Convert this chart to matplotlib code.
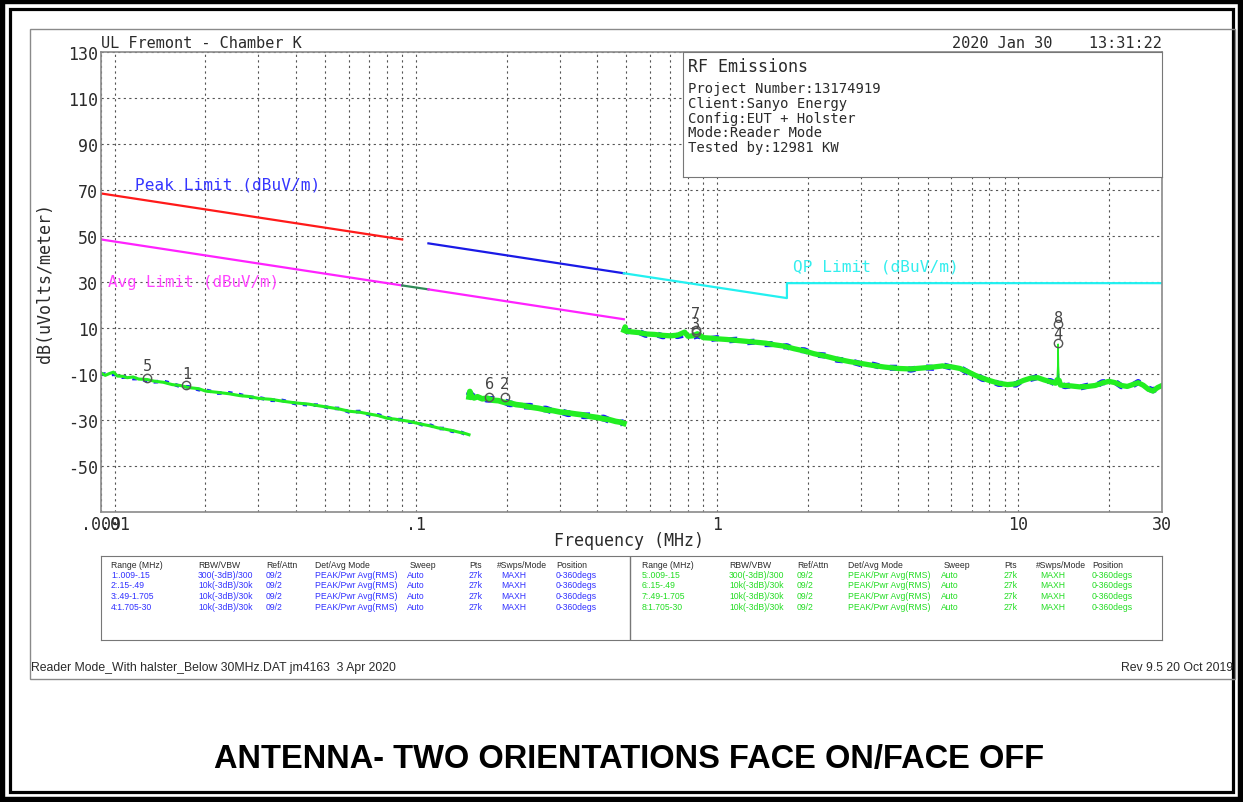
import matplotlib.pyplot as plt
from matplotlib.patches import Rectangle
from matplotlib import font_manager

W, H = 1243, 803

# ---- data ----
# trace 1-4 (blue) / 5-8 (green), frequency in MHz, level in dBuV/m
f1 = [0.009, 0.0093, 0.0096, 0.0099, 0.0102, 0.0106, 0.011, 0.0115, 0.012, 0.0128, 0.0135, 0.0145,
      0.0155, 0.0165, 0.0176, 0.019, 0.02, 0.022, 0.024, 0.026, 0.028, 0.03, 0.033, 0.036, 0.04,
      0.044, 0.048, 0.052, 0.056, 0.06, 0.065, 0.07, 0.075, 0.08, 0.085, 0.09, 0.095, 0.1, 0.106,
      0.112, 0.118, 0.125, 0.132, 0.14, 0.146, 0.15]
v1_green = [-9.6, -10.6, -9.8, -9.2, -10.9, -11.0, -11.6, -11.3, -12.2, -12.4, -13.1, -13.6,
            -14.6, -15.0, -15.9, -16.4, -17.4, -18.0, -18.6, -19.4, -19.8, -20.6, -21.0, -21.8, -22.6,
            -23.1, -23.9, -24.6, -25.3, -26.2, -26.6, -27.4, -28.1, -29.2, -29.6, -30.1, -30.6, -31.3, -32.0,
            -32.6, -33.4, -34.0, -34.6, -35.4, -35.9, -36.4]
v1_blue = [-10.2, -10.0, -10.4, -10.1, -10.5, -11.4, -11.2, -12.0, -12.0, -12.9, -13.4, -13.2,
           -14.2, -15.4, -15.6, -16.8, -17.0, -18.3, -18.2, -19.0, -20.1, -20.3, -21.4, -21.5, -22.9,
           -23.4, -23.6, -24.9, -25.0, -26.5, -26.3, -27.7, -27.8, -28.9, -29.9, -29.8, -30.9, -31.0, -32.3,
           -32.3, -33.7, -33.7, -34.9, -35.1, -36.2, -36.1]

f2 = [0.15, 0.151, 0.153, 0.156, 0.16, 0.166, 0.172, 0.18, 0.188, 0.196, 0.205, 0.215, 0.225,
      0.24, 0.255, 0.27, 0.285, 0.3, 0.32, 0.34, 0.36, 0.38, 0.4, 0.42, 0.44, 0.46, 0.475, 0.49]
v2_green = [-20.0, -17.6, -19.8, -20.4, -19.9, -20.8, -20.5, -21.4, -21.6, -22.3, -22.6, -23.3, -23.6,
            -24.4, -24.9, -25.6, -25.9, -26.5, -26.9, -27.4, -27.8, -28.5, -28.9, -29.5, -29.9, -30.6,
            -30.9, -31.5]
v2_blue = [-19.4, -18.4, -19.4, -20.0, -20.4, -20.3, -21.0, -21.0, -22.0, -21.9, -23.0, -22.9, -24.0,
           -24.0, -25.3, -25.2, -26.3, -26.1, -27.3, -27.0, -28.2, -28.1, -29.3, -29.1, -30.3, -30.2,
           -31.3, -31.1]

f3 = [0.49, 0.495, 0.5, 0.52, 0.55, 0.58, 0.62, 0.66, 0.7, 0.74, 0.78, 0.8, 0.83, 0.86, 0.9, 0.95,
      1.0, 1.08, 1.16, 1.25, 1.35, 1.45, 1.55, 1.65, 1.705, 1.8, 1.95, 2.1, 2.3, 2.5, 2.75, 3.0, 3.3,
      3.6, 4.0, 4.4, 4.8, 5.2, 5.6, 6.0, 6.4, 6.8, 7.2, 7.6, 8.0, 8.6, 9.2, 9.8, 10.4, 11.0, 11.6,
      12.2, 12.8, 13.3, 13.45, 13.52, 13.56, 13.6, 13.67, 13.8, 14.3, 15.0, 16.0, 17.0, 18.0, 19.0,
      20.0, 21.0, 22.0, 23.0, 24.0, 25.0, 26.0, 27.0, 28.0, 29.0, 30.0]
v3_green = [9.0, 10.5, 8.6, 8.3, 8.0, 7.4, 7.2, 6.8, 6.6, 6.9, 8.2, 6.4, 6.6, 7.5, 5.8, 5.6,
            5.3, 5.0, 4.6, 4.2, 3.8, 3.4, 2.7, 2.2, 1.8, 1.0, 0.0, -1.2, -2.3, -3.5, -4.6, -5.4, -6.3,
            -7.0, -7.6, -7.8, -7.4, -7.0, -6.5, -6.9, -7.6, -9.0, -10.6, -11.8, -12.8, -14.0, -14.6,
            -14.3, -12.8, -11.8, -11.6, -12.6, -13.4, -14.0, -12.5, -6.0, 3.0, -6.5, -12.8, -14.8,
            -15.0, -15.2, -15.6, -15.4, -15.0, -13.9, -13.2, -13.8, -15.0, -15.4, -14.6, -13.8, -14.9,
            -16.6, -17.4, -15.9, -15.0]
v3_blue = [8.6, 9.4, 8.9, 7.9, 8.3, 7.0, 7.5, 6.4, 6.9, 6.5, 7.2, 6.8, 6.2, 6.7, 6.1, 5.2,
           5.6, 4.6, 4.9, 3.8, 4.1, 3.0, 3.0, 1.9, 2.1, 0.6, 0.3, -1.5, -2.0, -3.8, -4.3, -5.7, -6.0,
           -7.3, -7.3, -8.1, -7.1, -7.3, -6.2, -7.2, -7.3, -9.3, -10.3, -12.1, -12.5, -14.3, -14.3,
           -14.6, -12.5, -12.1, -11.3, -12.9, -13.1, -14.3, -13.5, -12.0, -9.5, -12.2, -13.6, -14.5,
           -15.3, -14.9, -15.9, -15.1, -15.3, -13.6, -13.5, -13.5, -15.3, -15.1, -14.9, -13.5, -15.2,
           -16.3, -17.1, -16.2, -14.7]
spike_band = (13.45, 13.67)   # narrow 13.56 MHz carrier, drawn as a thin line

# limit lines (end points)
peak_f, peak_v = [0.009, 0.09], [68.5, 48.5]
peak2_f, peak2_v = [0.11, 0.49], [46.8, 33.8]
qp_f, qp_v = [0.49, 1.705, 1.705, 30], [33.8, 23.0, 29.5, 29.5]
avg_f, avg_v = [0.009, 0.09], [48.5, 28.5]
qp_mid_f, qp_mid_v = [0.09, 0.11], [28.5, 26.8]
avg2_f, avg2_v = [0.11, 0.49], [26.8, 13.8]

# markers
mk_f = [0.0128, 0.0173, 0.175, 0.197, 0.85, 0.85, 13.56, 13.56]
mk_v = [-11.7, -14.8, -20.2, -20.2, 9.3, 8.3, 11.7, 3.5]
mk_lbl_v = [-6.5, -9.6, -14.3, -14.3, 16.2, 12.0, 14.4, 7.4]
mk_lbl = ['5', '1', '6', '2', '7', '3', '8', '4']

y_ticks = [-50, -30, -10, 10, 30, 50, 70, 90, 110, 130]
x_ticks = [0.009, 0.01, 0.1, 1, 10, 30]
x_ticklabels = ['.009', '.01', '.1', '1', '10', '30']

info_lines = ['Project Number:13174919', 'Client:Sanyo Energy', 'Config:EUT + Holster',
              'Mode:Reader Mode', 'Tested by:12981 KW']

tbl_header = ['Range (MHz)', 'RBW/VBW', 'Ref/Attn', 'Det/Avg Mode', 'Sweep', 'Pts', '#Swps/Mode', 'Position']
ranges_left = ['1:.009-.15', '2:.15-.49', '3:.49-1.705', '4:1.705-30']
ranges_right = ['5:.009-.15', '6:.15-.49', '7:.49-1.705', '8:1.705-30']
rbw = ['300(-3dB)/300', '10k(-3dB)/30k', '10k(-3dB)/30k', '10k(-3dB)/30k']

MONO = 'DejaVu Sans Mono'
TXT = '#2a2a2a'
names = {f.name for f in font_manager.fontManager.ttflist}
if 'Liberation Sans Narrow' in names:
    NARROW, nsz = 'Liberation Sans Narrow', 7.2
else:
    NARROW, nsz = 'Liberation Sans', 6.2


def fx(x):
    return x / W


def fy(y):
    return 1 - y / H


fig = plt.figure(figsize=(W / 100, H / 100), dpi=100)

# page borders
fig.add_artist(Rectangle((0, 0), 1, 1, transform=fig.transFigure, fill=False, ec='black', lw=7.5))
fig.add_artist(Rectangle((fx(10), fy(H - 10)), fx(W - 20), (H - 20) / H, transform=fig.transFigure,
                         fill=False, ec='black', lw=2.3))
fig.add_artist(Rectangle((fx(30), fy(680)), fx(1235 - 30), 650 / H, transform=fig.transFigure,
                         fill=False, ec='#8a8a8a', lw=1))

ax = fig.add_axes([fx(101), fy(513), fx(1162 - 101), 460 / H])
ax.set_xscale('log')
ax.set_xlim(0.009, 30)
ax.set_ylim(-70, 130)

minor = [m * 10.0 ** e for e in (-2, -1, 0, 1) for m in range(1, 10) if 0.009 < m * 10.0 ** e <= 30]
ax.set_xticks(x_ticks)
ax.set_xticklabels(x_ticklabels)
ax.set_xticks(minor, minor=True)
ax.xaxis.set_minor_formatter(plt.NullFormatter())
ax.set_yticks(y_ticks)
ax.set_yticklabels([str(t) for t in y_ticks])
ax.tick_params(which='both', length=0, labelsize=12, labelcolor=TXT, pad=2)
for lab in ax.get_xticklabels() + ax.get_yticklabels():
    lab.set_fontfamily(MONO)
ax.grid(True, which='both', axis='x', color='#555555', lw=0.8, ls=(0, (2, 3)))
ax.grid(True, which='major', axis='y', color='#555555', lw=0.8, ls=(0, (2, 3)))
for s in ax.spines.values():
    s.set_color('#8a8a8a')
    s.set_linewidth(1.2)

# limits
ax.plot(peak_f, peak_v, color='#ff1a1a', lw=1.6)
ax.plot(peak2_f, peak2_v, color='#1a1ae6', lw=1.6)
ax.plot(qp_f, qp_v, color='#22f0f0', lw=1.6)
ax.plot(avg_f, avg_v, color='#ff22ff', lw=1.6)
ax.plot(qp_mid_f, qp_mid_v, color='#2e8b57', lw=1.6)
ax.plot(avg2_f, avg2_v, color='#ff22ff', lw=1.6)

ax.text(0.01167, 72.6, 'Peak Limit (dBuV/m)', family=MONO, fontsize=11.6, color='#3535ff', va='center')
ax.text(0.00949, 30.4, 'Avg Limit (dBuV/m)', family=MONO, fontsize=11.4, color='#ff44ff', va='center')
ax.text(1.79, 37.0, 'QP Limit (dBuV/m)', family=MONO, fontsize=11.6, color='#33eeee', va='center')

# traces
for f, vb, vg, lw in [(f1, v1_blue, v1_green, 2.6), (f2, v2_blue, v2_green, 4.8)]:
    ax.plot(f, vb, color='#1a1aff', lw=lw, ls=(0, (1.2, 1.8)))
    ax.plot(f, vg, color='#22ee22', lw=lw * 0.85)

outside = [i for i, f in enumerate(f3) if not (spike_band[0] < f < spike_band[1])]
inside = [i for i, f in enumerate(f3) if spike_band[0] <= f <= spike_band[1]]
ax.plot([f3[i] for i in outside], [v3_blue[i] for i in outside], color='#1a1aff', lw=4.4, ls=(0, (1.2, 1.8)))
ax.plot([f3[i] for i in inside], [v3_blue[i] for i in inside], color='#1a1aff', lw=1.0)
ax.plot([f3[i] for i in outside], [v3_green[i] for i in outside], color='#22ee22', lw=3.8)
ax.plot([f3[i] for i in inside], [v3_green[i] for i in inside], color='#22ee22', lw=1.0)

# markers
ax.plot(mk_f, mk_v, ls='none', marker='o', ms=6, mfc='none', mec='#555555', mew=1)
for f, v, t in zip(mk_f, mk_lbl_v, mk_lbl):
    ax.text(f, v, t, family=MONO, fontsize=11, color='#444444', ha='center', va='center')

fig.text(fx(101), fy(43), 'UL Fremont - Chamber K', family=MONO, fontsize=11, color=TXT, va='center')
fig.text(fx(1162), fy(43), '2020 Jan 30    13:31:22', family=MONO, fontsize=11, color=TXT,
         va='center', ha='right')
fig.text(fx(45), fy(283), 'dB(uVolts/meter)', family=MONO, fontsize=12, color=TXT, rotation=90,
         ha='center', va='center')
fig.text(fx(629), fy(541), 'Frequency (MHz)', family=MONO, fontsize=12, color=TXT, ha='center', va='center')

# info box
box = fig.add_axes([fx(683), fy(178), fx(1162 - 683), 125 / H], facecolor='white')
box.set_xticks([])
box.set_yticks([])
for s in box.spines.values():
    s.set_color('#777777')
fig.text(fx(688), fy(67), 'RF Emissions', family=MONO, fontsize=12, color=TXT, va='center')
for i, line in enumerate(info_lines):
    fig.text(fx(688), fy(89 + i * 14.8), line, family=MONO, fontsize=10, color=TXT, va='center')

# setup table
tbl = fig.add_axes([fx(101), fy(641), fx(1162 - 101), 84 / H], facecolor='white')
tbl.set_xticks([])
tbl.set_yticks([])
tbl.set_xlim(0, 1)
tbl.axvline(0.499, color='#777777', lw=1)
for s in tbl.spines.values():
    s.set_color('#777777')

cols_left = [111, 198, 266, 315, 410, 469, 497, 556]
cols_right = [642, 729, 797, 848, 944, 1004, 1036, 1092]
data_shift = [0, 0, 0, 0, -3, 0, 4, 0]
for cols, ranges, color in [(cols_left, ranges_left, '#3030ff'), (cols_right, ranges_right, '#22dd22')]:
    for c, h in zip(cols, tbl_header):
        fig.text(fx(c), fy(565), h, family=NARROW, fontsize=nsz, color=TXT, va='center')
    for r in range(4):
        row = [ranges[r], rbw[r], '09/2', 'PEAK/Pwr Avg(RMS)', 'Auto', '27k', 'MAXH', '0-360degs']
        for c, d, t in zip(cols, data_shift, row):
            fig.text(fx(c + d), fy(575.5 + r * 10.5), t, family=NARROW, fontsize=nsz, color=color, va='center')

fig.text(fx(31), fy(668), 'Reader Mode_With halster_Below 30MHz.DAT jm4163  3 Apr 2020', family=NARROW,
         fontsize=nsz * 1.42, color=TXT, va='center')
fig.text(fx(1233), fy(668), 'Rev 9.5 20 Oct 2019', family=NARROW, fontsize=nsz * 1.42, color=TXT,
         va='center', ha='right')

fig.text(fx(629), fy(760), 'ANTENNA- TWO ORIENTATIONS FACE ON/FACE OFF', family='Liberation Sans',
         fontweight='bold', fontsize=23.5, color='black', ha='center', va='center')

fig.savefig('out.png', dpi=100)
